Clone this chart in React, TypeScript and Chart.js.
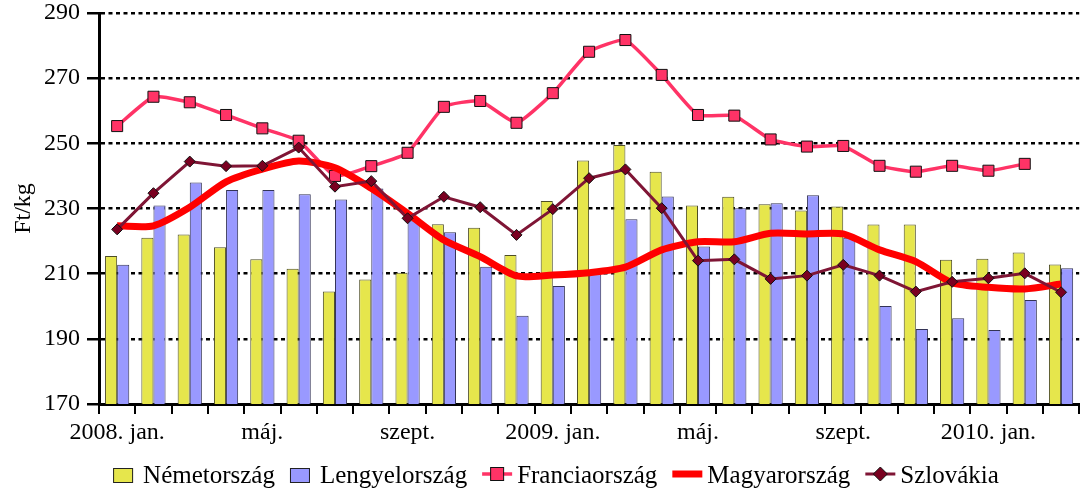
import React, { useEffect, useRef } from 'react';
import { Chart, registerables } from 'chart.js';

Chart.register(...registerables);

const FONT = '"Liberation Serif", "Times New Roman", serif';

const categories = [
  '2008. jan.', 'febr.', 'márc.', 'ápr.', 'máj.', 'jún.', 'júl.', 'aug.', 'szept.', 'okt.', 'nov.', 'dec.',
  '2009. jan.', 'febr.', 'márc.', 'ápr.', 'máj.', 'jún.', 'júl.', 'aug.', 'szept.', 'okt.', 'nov.', 'dec.',
  '2010. jan.', 'febr.', 'márc.',
];
const labelStep = 4;
const yMin = 170;
const yMax = 290;
const yStep = 20;
const yTitle = 'Ft/kg';

const seriesNames = ['Németország', 'Lengyelország', 'Franciaország', 'Magyarország', 'Szlovákia'];

const nemetorszag = [215.4, 221.0, 222.0, 218.1, 214.4, 211.5, 204.5, 208.2, 210.3, 225.2, 224.1, 215.7, 232.3, 244.7, 249.5, 241.3, 230.9, 233.6, 231.3, 229.4, 230.6, 225.1, 225.1, 214.3, 214.6, 216.5, 212.8];
const lengyelorszag = [212.7, 230.9, 238.0, 235.7, 235.7, 234.4, 232.8, 236.1, 226.3, 222.7, 212.1, 197.1, 206.2, 209.8, 226.7, 233.7, 218.3, 230.1, 231.6, 234.1, 221.0, 200.1, 193.0, 196.3, 192.7, 201.9, 211.7];
const franciaorszag = [255.3, 264.3, 262.6, 258.7, 254.6, 250.8, 240.0, 243.0, 247.1, 261.2, 263.0, 256.3, 265.4, 278.1, 281.7, 271.0, 258.7, 258.5, 251.2, 249.0, 249.2, 243.1, 241.3, 243.1, 241.6, 243.7, null];
const magyarorszag = [224.7, 224.7, 230.4, 238.2, 242.1, 244.6, 242.5, 236.2, 228.5, 220.3, 215.2, 209.3, 209.6, 210.3, 212.0, 217.3, 219.8, 219.8, 222.4, 222.2, 222.2, 217.3, 213.7, 207.2, 205.8, 205.3, 206.8];
const szlovakia = [223.6, 234.7, 244.4, 243.0, 243.1, 248.7, 236.7, 238.4, 227.0, 233.6, 230.4, 221.9, 229.8, 239.3, 242.0, 230.1, 214.0, 214.4, 208.4, 209.4, 212.7, 209.4, 204.5, 207.5, 208.6, 210.1, 204.3];

const YELLOW = '#E6E64C';
const BLUE = '#9999FF';
const PINK = '#FF3366';
const RED = '#FF0000';
const MAROON = '#7F1535';
const MAROON_FILL = '#7A0020';

const legendPlugin = {
  id: 'bottomLegend',
  afterDraw(chart: any) {
    const ctx = chart.ctx as CanvasRenderingContext2D;
    ctx.save();
    ctx.font = `25px ${FONT}`;
    const items = chart.data.datasets.map((ds: any) => {
      const kind = ds.legendKind;
      const symW = kind === 'box' ? 20 : 30;
      const gap = kind === 'box' ? 10 : 5;
      const textW = ctx.measureText(ds.label).width;
      return { ds, kind, symW, gap, textW };
    });
    const itemGap = 15;
    const total = items.reduce((s: number, it: any) => s + it.symW + it.gap + it.textW, 0) + itemGap * (items.length - 1);
    let x = 556 - total / 2;
    const baseY = 483;
    const symY = 474;
    for (const it of items) {
      const ds = it.ds;
      if (it.kind === 'box') {
        ctx.fillStyle = ds.backgroundColor;
        ctx.fillRect(x, 468, it.symW, 15);
        ctx.strokeStyle = '#222';
        ctx.lineWidth = 1;
        ctx.strokeRect(x + 0.5, 468.5, it.symW - 1, 14);
      } else {
        ctx.strokeStyle = ds.borderColor;
        ctx.lineWidth = ds.borderWidth;
        ctx.beginPath();
        ctx.moveTo(x, symY);
        ctx.lineTo(x + it.symW, symY);
        ctx.stroke();
        const cx = x + it.symW / 2;
        if (ds.pointStyle === 'rect') {
          ctx.fillStyle = ds.pointBackgroundColor;
          ctx.fillRect(cx - 6.5, symY - 6.5, 13, 13);
          ctx.strokeStyle = '#111';
          ctx.lineWidth = 1;
          ctx.strokeRect(cx - 6.5, symY - 6.5, 13, 13);
        } else if (ds.pointStyle === 'rectRot') {
          ctx.fillStyle = ds.pointBackgroundColor;
          ctx.beginPath();
          ctx.moveTo(cx - 7, symY);
          ctx.lineTo(cx, symY - 7);
          ctx.lineTo(cx + 7, symY);
          ctx.lineTo(cx, symY + 7);
          ctx.closePath();
          ctx.fill();
          ctx.strokeStyle = '#111';
          ctx.lineWidth = 1;
          ctx.stroke();
        }
      }
      x += it.symW + it.gap;
      ctx.fillStyle = '#000';
      ctx.textBaseline = 'alphabetic';
      ctx.textAlign = 'left';
      ctx.fillText(ds.label, x, baseY);
      x += it.textW + itemGap;
    }
    ctx.restore();
  },
};

export default function App() {
  const canvasRef = useRef<HTMLCanvasElement | null>(null);

  useEffect(() => {
    const canvas = canvasRef.current;
    if (!canvas) return;
    const chart = new Chart(canvas, {
      type: 'bar',
      data: {
        labels: categories,
        datasets: [
          {
            type: 'bar',
            label: seriesNames[0],
            data: nemetorszag,
            backgroundColor: YELLOW,
            borderColor: '#4D4D26',
            borderWidth: 1,
            barPercentage: 1,
            categoryPercentage: 0.667,
            order: 10,
            legendKind: 'box',
          } as any,
          {
            type: 'bar',
            label: seriesNames[1],
            data: lengyelorszag,
            backgroundColor: BLUE,
            borderColor: '#333355',
            borderWidth: 1,
            barPercentage: 1,
            categoryPercentage: 0.667,
            order: 11,
            legendKind: 'box',
          } as any,
          {
            type: 'line',
            label: seriesNames[2],
            data: franciaorszag,
            borderColor: PINK,
            borderWidth: 3.5,
            tension: 0.15,
            pointStyle: 'rect',
            pointRadius: 7.8,
            pointBackgroundColor: PINK,
            pointBorderColor: '#111',
            pointBorderWidth: 1,
            fill: false,
            order: 3,
            legendKind: 'marker',
          } as any,
          {
            type: 'line',
            label: seriesNames[3],
            data: magyarorszag,
            borderColor: RED,
            borderWidth: 7,
            tension: 0.25,
            pointRadius: 0,
            borderJoinStyle: 'round',
            fill: false,
            order: 2,
            legendKind: 'line',
          } as any,
          {
            type: 'line',
            label: seriesNames[4],
            data: szlovakia,
            borderColor: MAROON,
            borderWidth: 3,
            tension: 0,
            pointStyle: 'rectRot',
            pointRadius: 5.5,
            pointBackgroundColor: MAROON_FILL,
            pointBorderColor: '#111',
            pointBorderWidth: 1,
            fill: false,
            order: 1,
            legendKind: 'marker',
          } as any,
        ],
      },
      options: {
        animation: false,
        responsive: true,
        maintainAspectRatio: false,
        layout: { padding: { top: 8, right: 4, bottom: 37, left: 0 } },
        plugins: {
          legend: { display: false },
          tooltip: { enabled: false },
        },
        scales: {
          x: {
            type: 'category',
            offset: true,
            afterFit: (scale: any) => {
              scale.height = 50;
            },
            grid: {
              display: true,
              offset: true,
              drawOnChartArea: false,
              drawTicks: true,
              tickLength: 10,
              color: '#000',
              lineWidth: 2,
            },
            border: { display: true, color: '#000', width: 3 },
            ticks: {
              autoSkip: false,
              maxRotation: 0,
              minRotation: 0,
              padding: 7,
              color: '#000',
              font: { family: FONT, size: 24, lineHeight: 1 },
              callback: (_v: any, i: number) => (i % labelStep === 0 ? categories[i] : ''),
            },
          },
          y: {
            min: yMin,
            max: yMax,
            afterFit: (scale: any) => {
              scale.width = 99;
            },
            grid: {
              color: '#000',
              lineWidth: 2.5,
              drawTicks: true,
              tickLength: 12,
              tickColor: '#000',
              tickWidth: 2.5,
              tickBorderDash: [],
            },
            border: { display: true, color: '#000', width: 3, dash: [4, 3.5] },
            ticks: {
              stepSize: yStep,
              padding: 7,
              color: '#000',
              font: { family: FONT, size: 24, lineHeight: 0.5 },
            },
            title: {
              display: true,
              text: yTitle,
              color: '#000',
              font: { family: FONT, size: 24 },
              padding: { top: 9, bottom: 0 },
            },
          },
        },
      },
      plugins: [legendPlugin],
    } as any);
    return () => chart.destroy();
  }, []);

  return (
    <div style={{ position: 'absolute', left: 0, top: 0, width: 1088, height: 491 }}>
      <canvas ref={canvasRef} />
    </div>
  );
}
